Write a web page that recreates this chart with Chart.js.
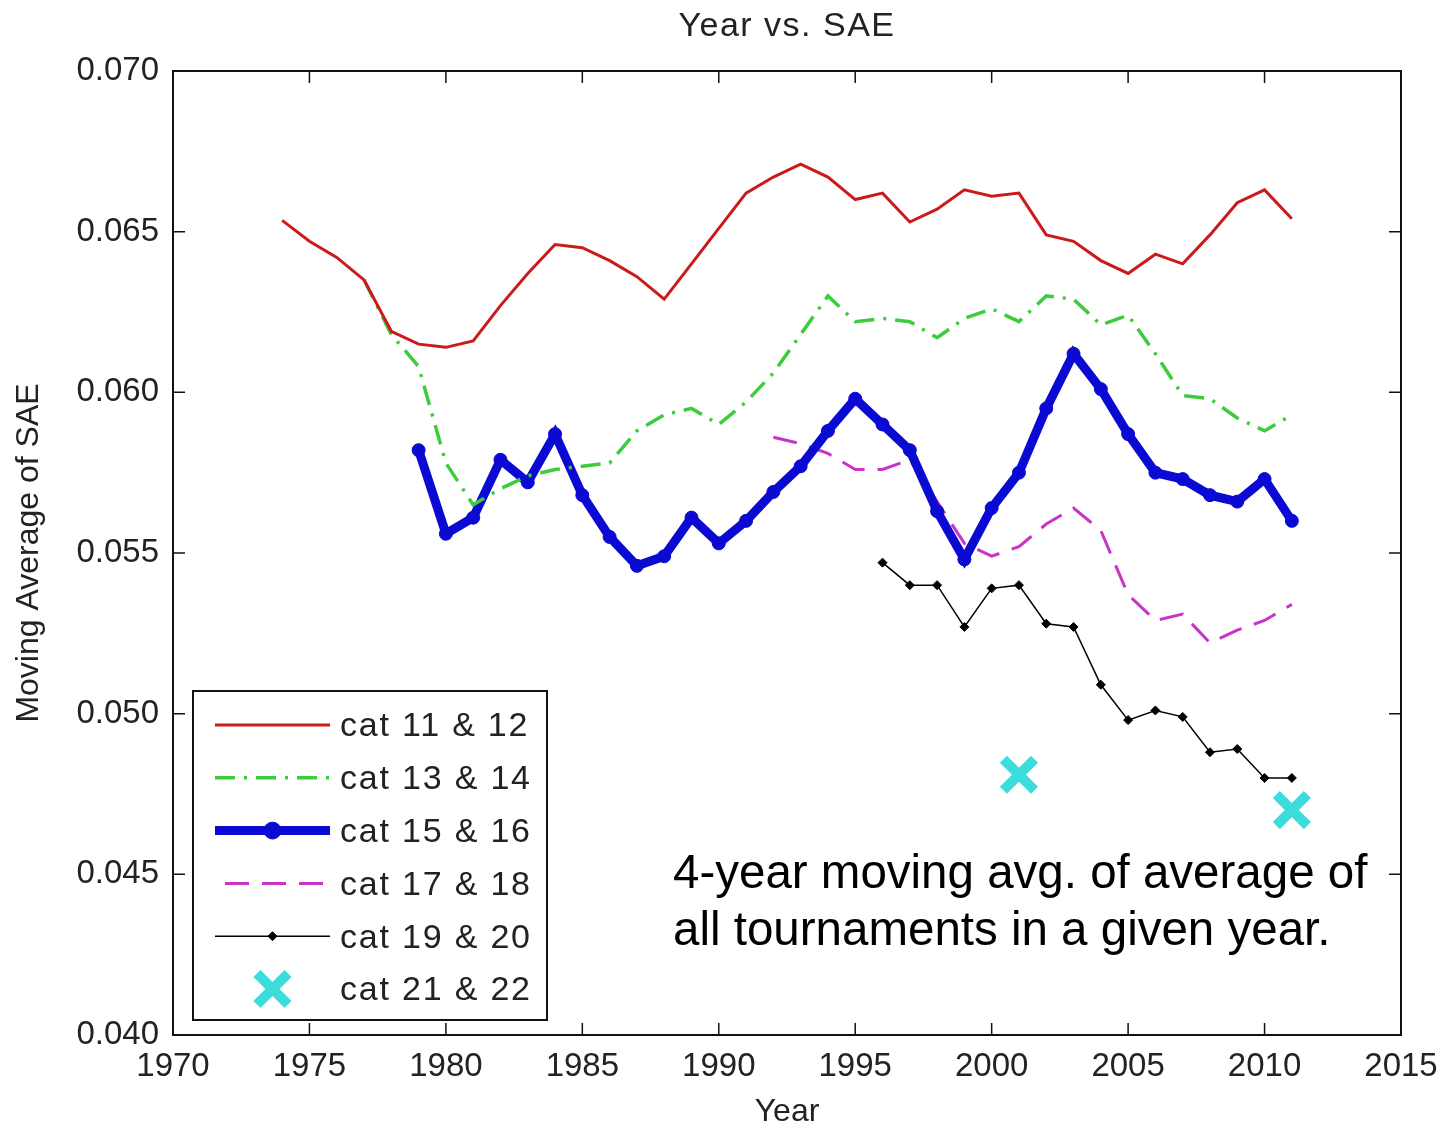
<!DOCTYPE html>
<html>
<head>
<meta charset="utf-8">
<title>Year vs. SAE</title>
<script src="https://cdn.jsdelivr.net/npm/chart.js@4.4.1/dist/chart.umd.min.js"></script>
<style>
  html, body { margin: 0; padding: 0; background: #fff; }
  #wrap { width: 1443px; height: 1131px; position: relative; }
</style>
</head>
<body>
<div id="wrap"><canvas id="saeChart"></canvas></div>
<script>
// years shared by every series (null = no value that year)
const years = [1974, 1975, 1976, 1977, 1978, 1979, 1980, 1981, 1982, 1983,
  1984, 1985, 1986, 1987, 1988, 1989, 1990, 1991, 1992, 1993,
  1994, 1995, 1996, 1997, 1998, 1999, 2000, 2001, 2002, 2003,
  2004, 2005, 2006, 2007, 2008, 2009, 2010, 2011];

const cat11_12 = [0.06535, 0.0647, 0.0642, 0.0635, 0.0619, 0.0615, 0.0614, 0.0616, 0.0627, 0.0637,
  0.0646, 0.0645, 0.0641, 0.0636, 0.0629, 0.0640, 0.0651, 0.0662, 0.0667, 0.0671,
  0.0667, 0.0660, 0.0662, 0.0653, 0.0657, 0.0663, 0.0661, 0.0662, 0.0649, 0.0647,
  0.0641, 0.0637, 0.0643, 0.0640, 0.0649, 0.0659, 0.0663, 0.0654];

const cat13_14 = [null, null, null, 0.0635, 0.0618, 0.0608, 0.0578, 0.0565, 0.0570, 0.0574,
  0.0576, 0.0577, 0.0578, 0.0588, 0.0593, 0.0595, 0.0590, 0.0597, 0.0606, 0.0618,
  0.0630, 0.0622, 0.0623, 0.0622, 0.0617, 0.0623, 0.0626, 0.0622, 0.0630, 0.0629,
  0.0621, 0.0624, 0.0612, 0.0599, 0.0598, 0.0592, 0.0588, 0.0593];

const cat15_16 = [null, null, null, null, null, 0.0582, 0.0556, 0.0561, 0.0579, 0.0572,
  0.0587, 0.0568, 0.0555, 0.0546, 0.0549, 0.0561, 0.0553, 0.0560, 0.0569, 0.0577,
  0.0588, 0.0598, 0.0590, 0.0582, 0.0563, 0.0548, 0.0564, 0.0575, 0.0595, 0.0612,
  0.0601, 0.0587, 0.0575, 0.0573, 0.0568, 0.0566, 0.0573, 0.0560];

const cat17_18 = [null, null, null, null, null, null, null, null, null, null,
  null, null, null, null, null, null, null, null, 0.0586, 0.0584,
  0.0581, 0.0576, 0.0576, 0.0579, 0.0566, 0.0553, 0.0549, 0.0552, 0.0559, 0.0564,
  0.0557, 0.0537, 0.0529, 0.0531, 0.0522, 0.0526, 0.0529, 0.0534];

const cat19_20 = [null, null, null, null, null, null, null, null, null, null,
  null, null, null, null, null, null, null, null, null, null,
  null, null, 0.0547, 0.0540, 0.0540, 0.0527, 0.0539, 0.0540, 0.0528, 0.0527,
  0.0509, 0.0498, 0.0501, 0.0499, 0.0488, 0.0489, 0.0480, 0.0480];

const cat21_22 = [null, null, null, null, null, null, null, null, null, null,
  null, null, null, null, null, null, null, null, null, null,
  null, null, null, null, null, null, null, 0.0481, null, null,
  null, null, null, null, null, null, null, 0.0470];

const seriesLabels = ['cat 11 & 12', 'cat 13 & 14', 'cat 15 & 16', 'cat 17 & 18', 'cat 19 & 20', 'cat 21 & 22'];
const xTicks = [1970, 1975, 1980, 1985, 1990, 1995, 2000, 2005, 2010, 2015];
const yTicks = [0.040, 0.045, 0.050, 0.055, 0.060, 0.065, 0.070];
const chartTitle = 'Year vs. SAE';
const note = ['4-year moving avg. of average of', 'all tournaments in a given year.'];

const axisFont = { family: 'Liberation Sans', size: 33 };

function toPoints(vals) {
  return years.map((yr, i) => ({ x: yr, y: vals[i] }));
}

// inward ticks on all four sides plus the box, like the original figure
const boxTicks = {
  id: 'boxTicks',
  afterDatasetsDraw(chart) {
    const { ctx, chartArea: a, scales } = chart;
    const len = 12;
    ctx.save();
    ctx.strokeStyle = '#111';
    ctx.lineWidth = 1.5;
    ctx.beginPath();
    xTicks.forEach(v => {
      const px = scales.x.getPixelForValue(v);
      ctx.moveTo(px, a.bottom); ctx.lineTo(px, a.bottom - len);
      ctx.moveTo(px, a.top); ctx.lineTo(px, a.top + len);
    });
    yTicks.forEach(v => {
      const py = scales.y.getPixelForValue(v);
      ctx.moveTo(a.left, py); ctx.lineTo(a.left + len, py);
      ctx.moveTo(a.right, py); ctx.lineTo(a.right - len, py);
    });
    ctx.stroke();
    ctx.lineWidth = 2;
    ctx.strokeRect(a.left, a.top, a.right - a.left, a.bottom - a.top);
    ctx.restore();
  }
};

function markerOpts(ds, scale) {
  return { pointStyle: ds.pointStyle, radius: ds.pointRadius * scale, borderWidth: ds.pointBorderWidth || 1, rotation: 0 };
}

// boxed legend inside the plot, drawn from the datasets' own styles
const boxLegend = {
  id: 'boxLegend',
  afterDraw(chart) {
    const { ctx, chartArea: a } = chart;
    const left = a.left + 20, top = a.bottom - 344, w = 354, h = 329;
    ctx.save();
    ctx.fillStyle = '#fff';
    ctx.fillRect(left, top, w, h);
    ctx.strokeStyle = '#111';
    ctx.lineWidth = 2;
    ctx.strokeRect(left, top, w, h);
    chart.data.datasets.forEach((ds, i) => {
      const y = top + 34 + i * 52.8;
      const x0 = left + 22, x1 = left + 137, xm = (x0 + x1) / 2;
      if (ds.showLine !== false) {
        ctx.beginPath();
        ctx.setLineDash(ds.borderDash || []);
        ctx.strokeStyle = ds.borderColor;
        ctx.lineWidth = ds.borderWidth;
        ctx.moveTo(i === 3 ? x0 + 10 : x0, y);
        ctx.lineTo(x1, y);
        ctx.stroke();
        ctx.setLineDash([]);
      }
      if (ds.pointRadius > 0) {
        ctx.fillStyle = ds.pointBackgroundColor;
        ctx.strokeStyle = ds.pointBorderColor;
        ctx.lineWidth = ds.pointBorderWidth || 1;
        Chart.helpers.drawPoint(ctx, markerOpts(ds, i === 2 ? 1.3 : 1), xm, y);
      }
      ctx.fillStyle = '#222';
      ctx.font = '34px "Liberation Sans"';
      ctx.letterSpacing = '1.8px';
      ctx.textBaseline = 'middle';
      ctx.fillText(ds.label, left + 147, y + 2);
    });
    ctx.restore();
  }
};

const textLayer = {
  id: 'textLayer',
  afterDraw(chart) {
    const { ctx, chartArea: a } = chart;
    ctx.save();
    // title centred over the plot box
    ctx.fillStyle = '#222';
    ctx.font = '34px "Liberation Sans"';
    ctx.letterSpacing = '1.5px';
    ctx.textAlign = 'center';
    ctx.textBaseline = 'middle';
    ctx.fillText(chartTitle, (a.left + a.right) / 2, 27);
    // annotation
    ctx.fillStyle = '#000';
    ctx.font = '47.5px "Liberation Sans"';
    ctx.letterSpacing = '0px';
    ctx.textAlign = 'left';
    ctx.textBaseline = 'alphabetic';
    ctx.fillText(note[0], a.left + 500, a.bottom - 147);
    ctx.fillText(note[1], a.left + 500, a.bottom - 90);
    ctx.restore();
  }
};

const ctx = document.getElementById('saeChart').getContext('2d');
new Chart(ctx, {
  type: 'line',
  data: {
    datasets: [
      {
        label: seriesLabels[0], data: toPoints(cat11_12),
        borderColor: '#cc1a1a', borderWidth: 3, pointRadius: 0, tension: 0
      },
      {
        label: seriesLabels[1], data: toPoints(cat13_14),
        borderColor: '#3ccc3c', borderWidth: 3.5, borderDash: [20, 9, 3, 9], pointRadius: 0, tension: 0
      },
      {
        label: seriesLabels[2], data: toPoints(cat15_16),
        borderColor: '#0a0ad2', borderWidth: 9, tension: 0,
        pointStyle: 'circle', pointRadius: 6.5, pointBackgroundColor: '#0a0ad2', pointBorderColor: '#0a0ad2', pointBorderWidth: 1
      },
      {
        label: seriesLabels[3], data: toPoints(cat17_18),
        borderColor: '#c833c8', borderWidth: 3, borderDash: [24, 13], pointRadius: 0, tension: 0
      },
      {
        label: seriesLabels[4], data: toPoints(cat19_20),
        borderColor: '#000', borderWidth: 1.5, tension: 0,
        pointStyle: 'rectRot', pointRadius: 4.5, pointBackgroundColor: '#000', pointBorderColor: '#000', pointBorderWidth: 1
      },
      {
        label: seriesLabels[5], data: toPoints(cat21_22), showLine: false,
        pointStyle: 'crossRot', pointRadius: 22, pointBorderWidth: 10,
        pointBackgroundColor: '#3ddcdc', pointBorderColor: '#3ddcdc', borderColor: '#3ddcdc'
      }
    ]
  },
  options: {
    responsive: true,
    maintainAspectRatio: false,
    animation: false,
    spanGaps: false,
    layout: { padding: { left: 0, right: 42, top: 71, bottom: 0 } },
    plugins: {
      legend: { display: false },
      tooltip: { enabled: false },
      title: { display: false }
    },
    scales: {
      x: {
        type: 'linear', min: 1970, max: 2015,
        afterFit: s => { s.height = 96; s.paddingRight = 0; s.paddingLeft = 0; },
        afterBuildTicks: s => { s.ticks = xTicks.map(v => ({ value: v })); },
        grid: { display: false, drawTicks: false },
        border: { display: false },
        ticks: { font: axisFont, color: '#222', padding: 12, maxRotation: 0, callback: v => String(v) },
        title: { display: true, text: 'Year', color: '#222', font: { family: 'Liberation Sans', size: 32 }, padding: { top: 0, bottom: 0 } }
      },
      y: {
        type: 'linear', min: 0.040, max: 0.070,
        afterFit: s => { s.width = 173; s.paddingTop = 0; s.paddingBottom = 0; },
        afterBuildTicks: s => { s.ticks = yTicks.map(v => ({ value: v })); },
        grid: { display: false, drawTicks: false },
        border: { display: false },
        ticks: { font: axisFont, color: '#222', padding: 14, callback: v => v.toFixed(3) },
        title: { display: true, text: 'Moving Average of SAE', color: '#222', font: { family: 'Liberation Sans', size: 32 }, padding: { top: 10, bottom: 10 } }
      }
    }
  },
  plugins: [boxTicks, boxLegend, textLayer]
});
</script>
</body>
</html>
